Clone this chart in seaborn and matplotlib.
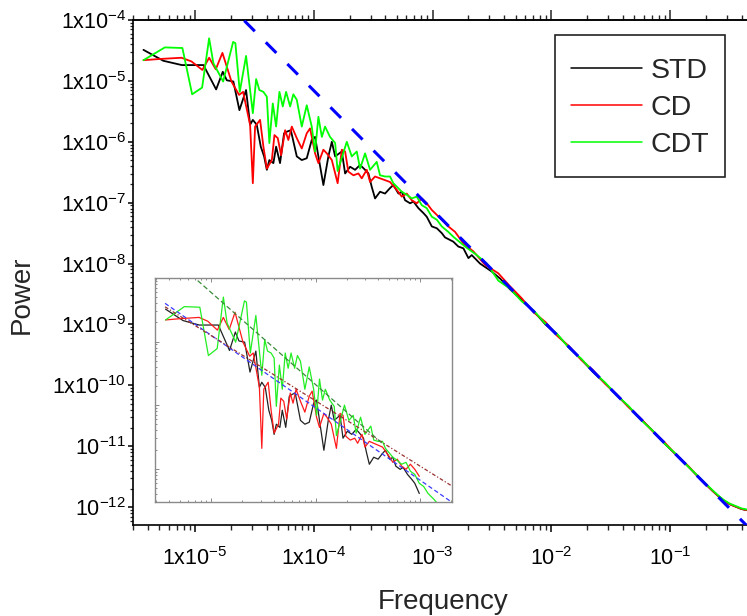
import numpy as np
import pandas as pd
import matplotlib
matplotlib.use("Agg")
import matplotlib.pyplot as plt
from matplotlib.lines import Line2D
from matplotlib.legend_handler import HandlerLine2D
from matplotlib.ticker import LogLocator, NullFormatter, FixedLocator, FixedFormatter
import seaborn as sns

# ---------------- data (log10 of frequency / log10 of power) ----------------
series_names = ["STD", "CD", "CDT"]
series_colors = ["#000000", "#ff0000", "#00ff00"]

std_log_freq = [-5.435, -5.267, -5.112, -4.930, -4.823, -4.767, -4.733, -4.678, -4.627, -4.571,
                -4.537, -4.514, -4.481, -4.447, -4.419, -4.396, -4.375, -4.341, -4.318, -4.285,
                -4.251, -4.223, -4.194, -4.144, -4.102, -4.060, -4.018, -3.990, -3.962, -3.920,
                -3.878, -3.849, -3.821, -3.765, -3.737, -3.695, -3.653, -3.611, -3.569, -3.541,
                -3.513, -3.485, -3.443, -3.401, -3.359, -3.331, -3.288, -3.260, -3.232, -3.190,
                -3.162, -3.120, -3.078, -3.050, -3.007, -2.965, -2.923, -2.896, -2.826, -2.784,
                -2.741, -2.699, -2.671, -2.601, -2.503, -2.430]
std_log_power = [-4.49, -4.67, -4.74, -4.74, -5.14, -4.85, -4.99, -5.01, -5.48, -5.15,
                 -5.72, -5.64, -5.72, -6.08, -6.24, -6.46, -6.30, -6.35, -6.08, -6.35,
                 -5.86, -5.83, -5.81, -6.24, -6.30, -6.27, -5.97, -5.92, -6.24, -6.71,
                 -6.24, -6.00, -6.24, -6.16, -6.52, -6.41, -6.46, -6.38, -6.46, -6.52,
                 -6.74, -6.93, -6.82, -6.85, -6.76, -6.71, -6.85, -6.82, -6.96, -7.01,
                 -6.98, -7.09, -7.17, -7.23, -7.39, -7.42, -7.50, -7.57, -7.64, -7.72,
                 -7.75, -7.91, -7.86, -8.00, -8.13, -8.25]

cd_log_freq = [-5.435, -5.297, -5.115, -5.031, -4.939, -4.882, -4.826, -4.770, -4.694, -4.630,
               -4.596, -4.537, -4.514, -4.495, -4.453, -4.425, -4.396, -4.354, -4.332, -4.304,
               -4.276, -4.242, -4.215, -4.186, -4.144, -4.102, -4.060, -4.032, -3.990, -3.962,
               -3.920, -3.891, -3.849, -3.800, -3.765, -3.737, -3.710, -3.667, -3.625, -3.597,
               -3.555, -3.527, -3.485, -3.443, -3.401, -3.359, -3.302, -3.260, -3.218, -3.176,
               -3.134, -3.092, -3.050, -3.007, -2.965, -2.923, -2.868, -2.811, -2.741, -2.657,
               -2.559, -2.447]
cd_log_power = [-4.66, -4.64, -4.62, -4.68, -4.82, -4.62, -4.81, -4.54, -5.01, -5.23,
                -5.18, -5.72, -6.68, -5.75, -5.64, -6.08, -6.44, -6.30, -5.89, -5.94,
                -6.22, -5.81, -5.97, -5.75, -5.94, -6.11, -5.86, -5.78, -6.19, -6.35,
                -6.13, -6.19, -6.30, -6.68, -6.13, -6.16, -6.49, -6.55, -6.52, -6.60,
                -6.46, -6.66, -6.57, -6.60, -6.63, -6.66, -6.79, -6.90, -6.85, -6.96,
                -7.01, -6.93, -7.01, -7.12, -7.20, -7.28, -7.39, -7.48, -7.67, -7.80,
                -8.02, -8.16]

cdt_log_freq = [-5.435, -5.255, -5.107, -5.025, -4.941, -4.882, -4.846, -4.764, -4.680, -4.661,
                -4.624, -4.571, -4.514, -4.486, -4.459, -4.425, -4.396, -4.375, -4.346, -4.318,
                -4.290, -4.262, -4.234, -4.200, -4.173, -4.144, -4.102, -4.060, -4.018, -3.990,
                -3.962, -3.933, -3.906, -3.864, -3.821, -3.800, -3.723, -3.681, -3.639, -3.611,
                -3.569, -3.527, -3.471, -3.443, -3.401, -3.359, -3.331, -3.260, -3.218, -3.176,
                -3.134, -3.092, -3.050, -3.007, -2.965, -2.923, -2.868, -2.826, -2.727, -2.629,
                -2.544, -2.447]
cdt_log_power = [-4.66, -4.45, -4.46, -5.22, -5.11, -4.30, -4.71, -5.01, -4.36, -4.38,
                 -5.18, -4.59, -5.53, -4.97, -5.15, -5.18, -5.26, -6.02, -5.37, -5.75,
                 -5.18, -5.42, -5.18, -5.42, -5.22, -5.31, -5.75, -5.40, -5.75, -6.16,
                 -5.59, -5.92, -5.75, -5.92, -6.02, -6.48, -6.00, -6.24, -6.16, -6.44,
                 -6.19, -6.46, -6.33, -6.55, -6.57, -6.57, -6.68, -6.82, -6.87, -6.93,
                 -6.90, -7.04, -7.09, -7.23, -7.28, -7.39, -7.48, -7.56, -7.72, -7.86,
                 -8.00, -8.28]

# high-frequency part (shared frequency grid)
hf_log_freq = [-2.35, -2.25, -2.15, -2.05, -1.95, -1.85, -1.75, -1.65, -1.55, -1.45,
               -1.35, -1.25, -1.15, -1.05, -0.95, -0.85, -0.75, -0.65, -0.60, -0.55,
               -0.50, -0.45, -0.40, -0.35, -0.30]
std_hf_log_power = [-8.42, -8.60, -8.78, -9.00, -9.17, -9.38, -9.57, -9.78, -9.96, -10.16,
                    -10.35, -10.55, -10.74, -10.95, -11.14, -11.33, -11.53, -11.72, -11.81, -11.89,
                    -11.95, -11.99, -12.03, -12.05, -12.08]
cd_hf_log_power = [-8.37, -8.57, -8.80, -8.96, -9.19, -9.36, -9.58, -9.75, -9.97, -10.15,
                   -10.36, -10.54, -10.75, -10.93, -11.14, -11.32, -11.53, -11.72, -11.81, -11.89,
                   -11.95, -11.99, -12.03, -12.05, -12.08]
cdt_hf_log_power = [-8.41, -8.62, -8.77, -8.99, -9.16, -9.39, -9.56, -9.77, -9.95, -10.16,
                    -10.34, -10.56, -10.74, -10.95, -11.13, -11.33, -11.52, -11.71, -11.80, -11.88,
                    -11.94, -11.98, -12.02, -12.04, -12.07]

# power-law guide in main panel: P = A * f^k
guide_amplitude = 1e-13
guide_exponent = -1.96
guide_freq = [1e-5, 0.6]

# inset fits (amplitude, exponent, f_start, f_end)
fit_amplitude = [10 ** -10.60, 10 ** -10.04, 10 ** -11.476]
fit_exponent = [-1.14, -1.027, -1.45]
fit_fstart = [10 ** -5.44, 10 ** -5.44, 10 ** -5.35]
fit_fend = [10 ** -2.69, 10 ** -2.69, 10 ** -3.35]
fit_colors = ["#3a3aff", "#9a3030", "#3a8a3a"]
fit_dashes = [(3.5, 2.2), (3.0, 1.6, 1.0, 1.6), (4.0, 2.2)]
inset_max_log_freq = [-3.0, -3.0, -2.82]

# ticks
xtick_vals = [1e-5, 1e-4, 1e-3, 1e-2, 1e-1]
xtick_labels = [r"$\mathregular{1x10^{-5}}$", r"$\mathregular{1x10^{-4}}$",
                r"$\mathregular{10^{-3}}$", r"$\mathregular{10^{-2}}$", r"$\mathregular{10^{-1}}$"]
ytick_vals = [1e-4, 1e-5, 1e-6, 1e-7, 1e-8, 1e-9, 1e-10, 1e-11, 1e-12]
ytick_labels = [r"$\mathregular{1x10^{-4}}$", r"$\mathregular{1x10^{-5}}$", r"$\mathregular{1x10^{-6}}$",
                r"$\mathregular{1x10^{-7}}$", r"$\mathregular{1x10^{-8}}$", r"$\mathregular{1x10^{-9}}$",
                r"$\mathregular{1x10^{-10}}$", r"$\mathregular{10^{-11}}$", r"$\mathregular{10^{-12}}$"]

# ---------------- build tables ----------------
low_f = [std_log_freq, cd_log_freq, cdt_log_freq]
low_p = [std_log_power, cd_log_power, cdt_log_power]
hf_p = [std_hf_log_power, cd_hf_log_power, cdt_hf_log_power]
frames, inset_frames = [], []
for name, lf, lp, hp, fmax in zip(series_names, low_f, low_p, hf_p, inset_max_log_freq):
    f_all = np.concatenate([lf, hf_log_freq])
    p_all = np.concatenate([lp, hp])
    d = pd.DataFrame({"Frequency": 10.0 ** f_all, "Power": 10.0 ** p_all, "Series": name})
    frames.append(d)
    inset_frames.append(d[f_all <= fmax + 1e-9])
df = pd.concat(frames, ignore_index=True)
df_inset = pd.concat(inset_frames, ignore_index=True)
palette = dict(zip(series_names, series_colors))

# ---------------- style ----------------
sns.set_style("ticks")
plt.rcParams["font.family"] = ["Liberation Sans", "DejaVu Sans"]
plt.rcParams["mathtext.fontset"] = "custom"
plt.rcParams["mathtext.rm"] = "Liberation Sans"
plt.rcParams["mathtext.it"] = "Liberation Sans:italic"
plt.rcParams["mathtext.bf"] = "Liberation Sans:bold"

fig = plt.figure(figsize=(7.47, 6.16), dpi=100)
ax = fig.add_axes([133 / 747, 1 - 525 / 616, 614 / 747, 505 / 616])

sns.lineplot(data=df, x="Frequency", y="Power", hue="Series", hue_order=series_names,
             palette=palette, estimator=None, sort=False, linewidth=1.3, legend=False, ax=ax)
gf = np.array(guide_freq)
ax.plot(gf, guide_amplitude * gf ** guide_exponent, color="#0000ff", lw=2.2,
        dashes=(4.9, 5.1), zorder=4)

ax.set_xscale("log")
ax.set_yscale("log")
ax.set_xlim(3.0e-6, 0.443)
ax.set_ylim(5.1e-13, 1e-4)

ax.xaxis.set_major_locator(FixedLocator(xtick_vals))
ax.xaxis.set_major_formatter(FixedFormatter(xtick_labels))
ax.xaxis.set_minor_locator(LogLocator(base=10, subs=np.arange(2, 10), numticks=30))
ax.xaxis.set_minor_formatter(NullFormatter())
ax.yaxis.set_major_locator(FixedLocator(ytick_vals))
ax.yaxis.set_major_formatter(FixedFormatter(ytick_labels))
ax.yaxis.set_minor_locator(LogLocator(base=10, subs=np.arange(2, 10), numticks=30))
ax.yaxis.set_minor_formatter(NullFormatter())

for s in ["left", "bottom", "top"]:
    ax.spines[s].set_linewidth(1.2)
    ax.spines[s].set_color("black")
ax.spines["right"].set_visible(False)

ax.tick_params(axis="x", which="major", direction="out", length=4.8, width=1.1,
               labelsize=15.5, pad=11.0, colors="black")
ax.tick_params(axis="x", which="minor", direction="out", length=3.3, width=1.0)
ax.tick_params(axis="y", which="major", direction="out", length=3.8, width=1.1,
               labelsize=15.5, pad=1.0, colors="black")
ax.tick_params(axis="y", which="minor", direction="out", length=1.9, width=0.9)

sec = ax.secondary_xaxis("top")
sec.xaxis.set_major_locator(FixedLocator(xtick_vals))
sec.xaxis.set_major_formatter(NullFormatter())
sec.xaxis.set_minor_locator(LogLocator(base=10, subs=np.arange(2, 10), numticks=30))
sec.xaxis.set_minor_formatter(NullFormatter())
sec.tick_params(which="major", direction="out", length=7.2, width=1.1)
sec.tick_params(which="minor", direction="out", length=3.6, width=1.0)
sec.spines["top"].set_linewidth(1.2)

ax.set_xlabel("Frequency", fontsize=20, va="center")
ax.xaxis.set_label_coords((443 - 133) / 614, (525 - 602) / 505)
ax.set_ylabel("Power", fontsize=20, va="center", ha="center")
ax.yaxis.set_label_coords((22 - 133) / 614, (525 - 295) / 505)


class CenteredLineHandler(HandlerLine2D):
    """Legend line handler that places the sample line at the text's mid-height."""
    def create_artists(self, legend, orig_handle, xdescent, ydescent, width, height, fontsize, trans):
        return super().create_artists(legend, orig_handle, xdescent, ydescent, width,
                                      height - 5.3, fontsize, trans)


handles = [Line2D([0], [0], color=c, lw=1.1) for c in series_colors]
leg = ax.legend(handles, series_names, loc="upper left",
                bbox_to_anchor=((555 - 133) / 614, (525 - 35) / 505),
                fontsize=20.5, frameon=True, fancybox=False, framealpha=1,
                edgecolor="#222222", borderpad=0.55, handlelength=2.5, handleheight=1.62,
                handletextpad=0.3, labelspacing=0.0, borderaxespad=0,
                handler_map={Line2D: CenteredLineHandler()})
leg.get_frame().set_linewidth(1.2)
leg.set_zorder(6)

# ---------------- inset ----------------
axin = fig.add_axes([155 / 747, 1 - 502 / 616, 297 / 747, 224 / 616])
axin.set_facecolor("white")
sns.lineplot(data=df_inset, x="Frequency", y="Power", hue="Series", hue_order=series_names,
             palette={"STD": "#222222", "CD": "#ff1a1a", "CDT": "#22ee22"},
             estimator=None, sort=False, linewidth=0.9, legend=False, ax=axin)
for a, k, f0, f1, c, ds in zip(fit_amplitude, fit_exponent, fit_fstart, fit_fend, fit_colors, fit_dashes):
    ff = np.array([f0, f1])
    axin.plot(ff, a * ff ** k, color=c, lw=0.9, dashes=ds)
axin.set_xscale("log")
axin.set_yscale("log")
axin.set_xlim(10 ** -5.536, 10 ** -2.694)
axin.set_ylim(10 ** -7.524, 1.0e-4)
axin.set_xlabel("")
axin.set_ylabel("")
axin.xaxis.set_major_locator(FixedLocator([1e-5, 1e-4, 1e-3]))
axin.xaxis.set_minor_locator(LogLocator(base=10, subs=np.arange(2, 10), numticks=30))
axin.yaxis.set_major_locator(FixedLocator([1e-4, 1e-5, 1e-6, 1e-7]))
axin.yaxis.set_minor_locator(LogLocator(base=10, subs=np.arange(2, 10), numticks=30))
for axis in (axin.xaxis, axin.yaxis):
    axis.set_major_formatter(NullFormatter())
    axis.set_minor_formatter(NullFormatter())
axin.tick_params(which="both", direction="in", top=True, bottom=True, left=True, right=False,
                 labelbottom=False, labelleft=False, color="#777777", width=0.6)
axin.tick_params(which="major", length=3.0)
axin.tick_params(which="minor", length=1.6)
for s in axin.spines.values():
    s.set_color("#8a8a8a")
    s.set_linewidth(1.0)

fig.savefig("out.png", dpi=100)
